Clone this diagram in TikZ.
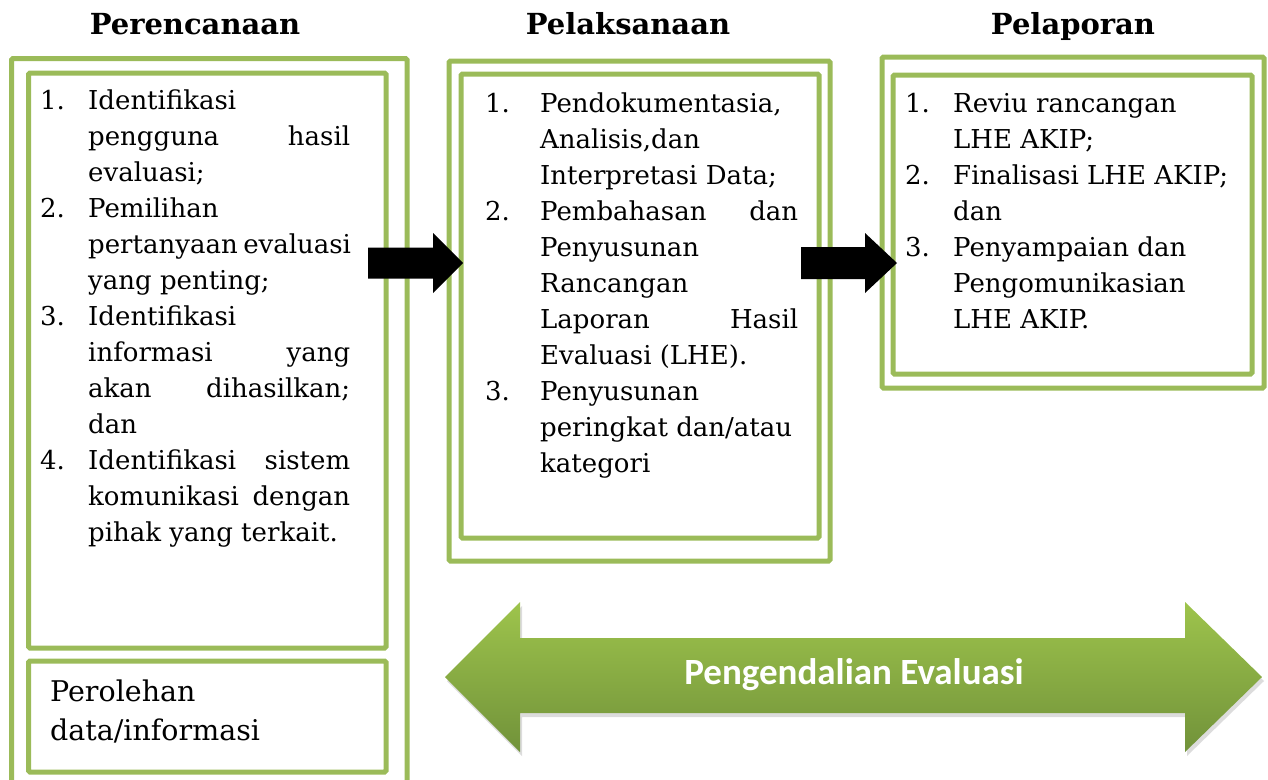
\documentclass[tikz,border=0pt]{standalone}
\usepackage{fontspec}
\setmainfont{DejaVu Serif}
\newfontfamily\arrowfont{Carlito}
\definecolor{gborder}{HTML}{9BBB59}
\definecolor{gtop}{HTML}{9EC44C}
\definecolor{gbot}{HTML}{71923A}
\newcommand{\bodyfont}{\fontsize{26}{36}\selectfont}
\newcommand{\jl}[1]{\makebox[262pt][s]{#1}}
\newcommand{\jm}[1]{\makebox[258pt][s]{#1}}
\begin{document}
\begin{tikzpicture}[x=1pt,y=-1pt,
  gbox/.style={draw=gborder, line width=5pt, rounded corners=1.5pt, inner sep=0pt, outer sep=0pt},
  txt/.style={anchor=base west, inner sep=0pt, font=\bodyfont},
  bigtxt/.style={anchor=base west, inner sep=0pt, font=\fontsize{28.5}{36}\selectfont},
  ttl/.style={anchor=base, inner sep=0pt, font=\fontsize{29}{34}\selectfont\bfseries}]
\useasboundingbox (0,0) rectangle (1268,779);
% titles
\node[ttl] (t1) at (195,34) {Perencanaan};
\node[ttl] (t2) at (628,34) {Pelaksanaan};
\node[ttl] (t3) at (1073,34) {Pelaporan};
% boxes
\node[gbox, minimum width=395.5pt, minimum height=731.5pt] (lo) at (209.25,424.25) {};
\node[gbox, minimum width=357.5pt, minimum height=575pt] (li) at (207.25,360.5) {};
\node[gbox, minimum width=357.5pt, minimum height=111pt] (lb) at (207.25,716.5) {};
\node[gbox, minimum width=381pt, minimum height=500pt] (mo) at (639.5,311) {};
\node[gbox, minimum width=358pt, minimum height=464pt] (mi) at (640,306) {};
\node[gbox, minimum width=382pt, minimum height=331pt] (ro) at (1073,222.5) {};
\node[gbox, minimum width=359pt, minimum height=299pt] (ri) at (1072.5,224.5) {};
% left text
\node[txt] (ln1) at (40,109) {1.};
\node[txt] (l0) at (88,109) {Identifikasi};
\node[txt] (l1) at (88,145) {\jl{pengguna hasil}};
\node[txt] (l2) at (88,181) {evaluasi;};
\node[txt] (ln2) at (40,217) {2.};
\node[txt] (l3) at (88,217) {Pemilihan};
\node[txt] (l4) at (88,253) {\jl{pertanyaan evaluasi}};
\node[txt] (l5) at (88,289) {yang penting;};
\node[txt] (ln3) at (40,325) {3.};
\node[txt] (l6) at (88,325) {Identifikasi};
\node[txt] (l7) at (88,361) {\jl{informasi yang}};
\node[txt] (l8) at (88,397) {\jl{akan dihasilkan;}};
\node[txt] (l9) at (88,433) {dan};
\node[txt] (ln4) at (40,469) {4.};
\node[txt] (l10) at (88,469) {\jl{Identifikasi sistem}};
\node[txt] (l11) at (88,505) {\jl{komunikasi dengan}};
\node[txt] (l12) at (88,541) {pihak yang terkait.};
\node[bigtxt] (p1) at (50,701) {Perolehan};
\node[bigtxt] (p2) at (50,740) {data/informasi};
% middle text
\node[txt] (mn1) at (485,112) {1.};
\node[txt] (m0) at (540,112) {Pendokumentasia,};
\node[txt] (m1) at (540,148) {Analisis,dan};
\node[txt] (m2) at (540,184) {Interpretasi Data;};
\node[txt] (mn2) at (485,220) {2.};
\node[txt] (m3) at (540,220) {\jm{Pembahasan dan}};
\node[txt] (m4) at (540,256) {Penyusunan};
\node[txt] (m5) at (540,292) {Rancangan};
\node[txt] (m6) at (540,328) {\jm{Laporan Hasil}};
\node[txt] (m7) at (540,364) {Evaluasi (LHE).};
\node[txt] (mn3) at (485,400) {3.};
\node[txt] (m8) at (540,400) {Penyusunan};
\node[txt] (m9) at (540,436) {peringkat dan/atau};
\node[txt] (m10) at (540,472) {kategori};
% right text
\node[txt] (rn1) at (905,112) {1.};
\node[txt] (r0) at (953,112) {Reviu rancangan};
\node[txt] (r1) at (953,148) {LHE AKIP;};
\node[txt] (rn2) at (905,184) {2.};
\node[txt] (r2) at (953,184) {Finalisasi LHE AKIP;};
\node[txt] (r3) at (953,220) {dan};
\node[txt] (rn3) at (905,256) {3.};
\node[txt] (r4) at (953,256) {Penyampaian dan};
\node[txt] (r5) at (953,292) {Pengomunikasian};
\node[txt] (r6) at (953,328) {LHE AKIP.};
% black arrows
\coordinate (a1) at (368,263);
\coordinate (a2) at (801,263);
\fill[black] (a1) ++(0,-15.5) -- ++(65,0) -- ++(0,-14.5) -- ++(30,30) -- ++(-30,30) -- ++(0,-14.5) -- ++(-65,0) -- cycle;
\fill[black] (a2) ++(0,-16) -- ++(64,0) -- ++(0,-14) -- ++(32,30) -- ++(-32,30) -- ++(0,-14) -- ++(-64,0) -- cycle;
% green double arrow
\fill[black!30, opacity=0.45] (447,681) -- (522,606) -- (522,642) -- (1187,642) -- (1187,606) -- (1264,681) -- (1187,756) -- (1187,717) -- (522,717) -- (522,756) -- cycle;
\shade[top color=gtop, bottom color=gbot] (445,677) -- (520,602) -- (520,638) -- (1185,638) -- (1185,602) -- (1262,677) -- (1185,752) -- (1185,713) -- (520,713) -- (520,752) -- cycle;
\node[inner sep=0pt, text=white, font=\arrowfont\bfseries\fontsize{37}{44}\selectfont] (ge) at (854,675) {Pengendalian Evaluasi};
\end{tikzpicture}
\end{document}
